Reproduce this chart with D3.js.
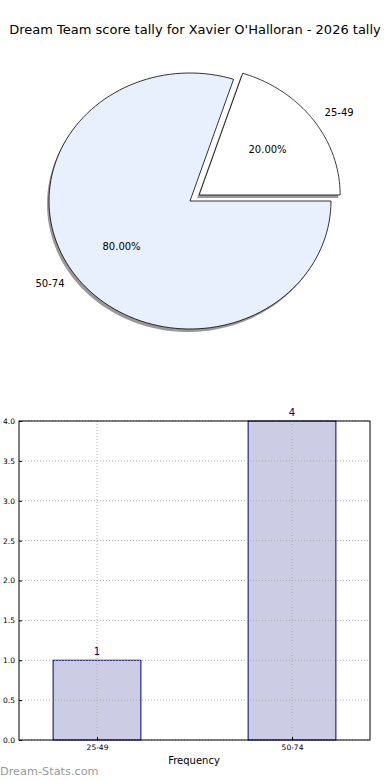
<!DOCTYPE html>
<html>
<head>
<meta charset="utf-8">
<script src="https://cdn.jsdelivr.net/npm/d3@7"></script>
<style>
  body { margin: 0; background: #fff; }
  svg { font-family: "DejaVu Sans", sans-serif; display: block; }
</style>
</head>
<body>
<div id="chart"></div>
<script>
// data
const titleText = "Dream Team score tally for Xavier O'Halloran - 2026 tally";
const categories = ["25-49", "50-74"];
const counts = [1, 4];
const sliceColors = ["#ffffff", "#e9f0fd"];
const explode = [0.08, 0];
const yTicks = [0, 0.5, 1, 1.5, 2, 2.5, 3, 3.5, 4];

const W = 390, H = 780;
const svg = d3.select("#chart").append("svg").attr("width", W).attr("height", H);

svg.append("text")
  .attr("x", 195).attr("y", 34)
  .attr("text-anchor", "middle")
  .style("font-size", "13px")
  .text(titleText);

// Pie section (ellipse-ish, like the original)
const cx = 190, cy = 201, rx = 141, ry = 128;
const total = d3.sum(counts);
// matplotlib style: start at 0 deg (3 o'clock), counter-clockwise
let acc = 0;
const slices = counts.map(function(v, i){
  const a0 = acc / total * 2 * Math.PI;
  acc += v;
  const a1 = acc / total * 2 * Math.PI;
  return {cat: categories[i], val: v, a0: a0, a1: a1, i: i};
});

function wedgePath(d, ox, oy){
  const pts = [];
  const n = 120;
  for(let k=0;k<=n;k++){
    const a = d.a0 + (d.a1 - d.a0) * k / n;
    pts.push([ox + rx*Math.cos(a), oy - ry*Math.sin(a)]);
  }
  return "M" + ox + "," + oy + "L" + pts.map(function(p){return p[0]+","+p[1];}).join("L") + "Z";
}

function offset(d){
  const mid = (d.a0 + d.a1)/2;
  const e = explode[d.i];
  return [cx + e*rx*Math.cos(mid), cy - e*ry*Math.sin(mid)];
}

const pieG = svg.append("g");
// shadows first
slices.forEach(function(d){
  const o = offset(d);
  pieG.append("path")
    .attr("d", wedgePath(d, o[0]-2, o[1]+3))
    .attr("fill", "#808080")
    .attr("opacity", 0.8);
});
slices.forEach(function(d){
  const o = offset(d);
  pieG.append("path")
    .attr("d", wedgePath(d, o[0], o[1]))
    .attr("fill", sliceColors[d.i])
    .attr("stroke", "#000")
    .attr("stroke-width", 0.8);
});
slices.forEach(function(d){
  const o = offset(d);
  const mid = (d.a0 + d.a1)/2;
  const lx = o[0] + 1.1*rx*Math.cos(mid), ly = o[1] - 1.1*ry*Math.sin(mid);
  pieG.append("text")
    .attr("x", lx).attr("y", ly)
    .attr("dy", "0.35em")
    .attr("text-anchor", Math.cos(mid) >= 0 ? "start" : "end")
    .style("font-size", "10px")
    .text(d.cat);
  const px = o[0] + 0.6*rx*Math.cos(mid), py = o[1] - 0.6*ry*Math.sin(mid);
  pieG.append("text")
    .attr("x", px).attr("y", py)
    .attr("dy", "0.35em")
    .attr("text-anchor", "middle")
    .style("font-size", "10px")
    .text((d.val/total*100).toFixed(2) + "%");
});

// Bar section
const pLeft = 19, pRight = 370, pTop = 421, pBottom = 740;
const x = d3.scaleLinear().domain([-0.4, 1.4]).range([pLeft, pRight]);
const y = d3.scaleLinear().domain([0, 4]).range([pBottom, pTop]);
const bw = 0.45;

const barG = svg.append("g");

barG.selectAll(".bar")
  .data(counts)
  .enter().append("rect")
  .attr("class", "bar")
  .attr("x", function(d,i){ return x(i - bw/2); })
  .attr("y", function(d){ return y(d); })
  .attr("width", function(d,i){ return x(i + bw/2) - x(i - bw/2); })
  .attr("height", function(d){ return y(0) - y(d); })
  .attr("fill", "#ccccE5")
  .attr("stroke", "#000080")
  .attr("stroke-width", 1);

// grid (drawn over bars)
barG.selectAll(".hgrid")
  .data(yTicks)
  .enter().append("line")
  .attr("x1", pLeft).attr("x2", pRight)
  .attr("y1", function(d){ return y(d); })
  .attr("y2", function(d){ return y(d); })
  .attr("stroke", "#b0b0b0")
  .attr("stroke-width", 1)
  .attr("stroke-dasharray", "1,2");
barG.selectAll(".vgrid")
  .data(categories)
  .enter().append("line")
  .attr("x1", function(d,i){ return x(i); })
  .attr("x2", function(d,i){ return x(i); })
  .attr("y1", pTop).attr("y2", pBottom)
  .attr("stroke", "#b0b0b0")
  .attr("stroke-width", 1)
  .attr("stroke-dasharray", "1,2");

// frame
barG.append("rect")
  .attr("x", pLeft).attr("y", pTop)
  .attr("width", pRight-pLeft).attr("height", pBottom-pTop)
  .attr("fill", "none").attr("stroke", "#000").attr("stroke-width", 1);

// axes
const yAxis = d3.axisLeft(y).tickValues(yTicks).tickFormat(d3.format(".1f")).tickSizeInner(-3).tickSizeOuter(0).tickPadding(4);
const yg = barG.append("g").attr("transform", "translate(" + pLeft + ",0)").call(yAxis);
yg.select(".domain").remove();
yg.selectAll("line").attr("stroke", "#000");
yg.selectAll("text").style("font-size", "7.5px").style("font-family", "DejaVu Sans");

const xAxis = d3.axisBottom(x).tickValues([0,1]).tickFormat(function(d){ return categories[d]; }).tickSizeInner(-3).tickSizeOuter(0).tickPadding(5);
const xg = barG.append("g").attr("transform", "translate(0," + pBottom + ")").call(xAxis);
xg.select(".domain").remove();
xg.selectAll("text").style("font-size", "7.5px").style("font-family", "DejaVu Sans");

// value labels
barG.selectAll(".val")
  .data(counts)
  .enter().append("text")
  .attr("x", function(d,i){ return x(i); })
  .attr("y", function(d){ return y(d) - 5; })
  .attr("text-anchor", "middle")
  .attr("fill", "#000080")
  .style("font-size", "10px")
  .text(function(d){ return d; });

svg.append("text")
  .attr("x", 194).attr("y", 764)
  .attr("text-anchor", "middle")
  .style("font-size", "10px")
  .text("Frequency");

svg.append("text")
  .attr("x", 0).attr("y", 775)
  .attr("fill", "#9a9a9a")
  .style("font-size", "11.3px")
  .text("Dream-Stats.com");
</script>
</body>
</html>
